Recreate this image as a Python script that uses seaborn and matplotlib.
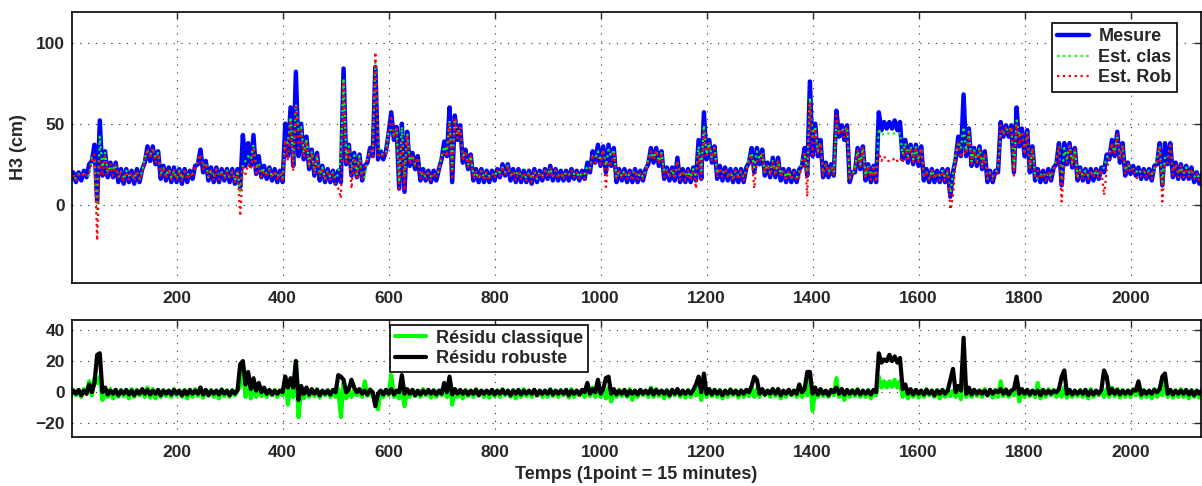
import numpy as np
import matplotlib
matplotlib.use("Agg")
import matplotlib.pyplot as plt
import seaborn as sns
from matplotlib.lines import Line2D

# ---------------- data (one bin every 10 samples) -------------
# measured level H3 (cm): lower / upper envelope of the noisy trace in each bin
mesure_lo = [15, 14, 15, 17, 27, 2, 18, 17, 17, 14,
             13, 14, 13, 14, 26, 27, 25, 16, 15, 14,
             14, 13, 14, 16, 25, 20, 15, 14, 14, 15,
             14, 13, 11, 24, 24, 19, 17, 16, 15, 14,
             14, 30, 24, 30, 28, 22, 18, 15, 14, 14,
             13, 14, 25, 18, 17, 15, 26, 30, 28, 28,
             44, 40, 10, 8, 24, 22, 15, 15, 14, 15,
             28, 30, 14, 40, 26, 22, 15, 14, 14, 14,
             15, 17, 18, 15, 14, 14, 14, 13, 14, 15,
             16, 15, 15, 15, 15, 16, 15, 16, 20, 26,
             24, 20, 24, 14, 15, 14, 14, 14, 15, 25,
             26, 24, 16, 15, 15, 14, 14, 14, 15, 16,
             28, 26, 16, 15, 15, 14, 14, 14, 26, 20,
             25, 18, 17, 17, 15, 14, 14, 14, 24, 18,
             30, 30, 17, 17, 18, 42, 40, 14, 20, 22,
             15, 14, 14, 46, 47, 47, 46, 28, 26, 25,
             24, 15, 14, 14, 14, 14, 5, 28, 30, 30,
             24, 24, 22, 14, 14, 20, 42, 42, 20, 36,
             30, 20, 15, 14, 14, 15, 25, 12, 25, 23,
             15, 15, 14, 15, 16, 20, 28, 30, 26, 18,
             19, 18, 16, 16, 15, 25, 12, 25, 17, 16,
             16, 16, 14, 13]
mesure_hi = [20, 20, 21, 25, 37, 52, 33, 26, 26, 22,
             22, 21, 22, 22, 36, 36, 33, 24, 23, 23,
             22, 22, 21, 24, 34, 27, 23, 23, 22, 22,
             22, 22, 43, 38, 43, 30, 24, 23, 22, 21,
             50, 60, 82, 50, 42, 34, 32, 24, 22, 21,
             21, 84, 37, 32, 31, 24, 35, 85, 33, 33,
             57, 48, 50, 45, 32, 30, 22, 21, 21, 22,
             39, 60, 55, 49, 34, 31, 22, 22, 21, 21,
             22, 25, 25, 22, 22, 21, 21, 22, 21, 22,
             24, 22, 21, 21, 22, 21, 21, 26, 33, 37,
             36, 37, 35, 22, 22, 21, 22, 21, 22, 35,
             35, 33, 23, 23, 29, 22, 22, 23, 40, 57,
             40, 36, 24, 23, 22, 22, 22, 23, 35, 35,
             34, 26, 29, 29, 22, 22, 21, 22, 35, 76,
             50, 40, 26, 25, 58, 49, 49, 20, 35, 36,
             25, 24, 57, 51, 51, 52, 51, 40, 37, 37,
             36, 22, 22, 21, 22, 22, 20, 42, 68, 47,
             35, 36, 33, 21, 21, 51, 49, 49, 60, 47,
             46, 36, 22, 21, 22, 23, 38, 38, 38, 35,
             23, 22, 22, 22, 23, 31, 40, 45, 38, 26,
             24, 23, 22, 22, 24, 38, 38, 38, 26, 25,
             24, 23, 20, 19]

# classical residual (cm), paired with the lower / upper points of each bin
res_clas_lo = [-3, -2, -3, -1, -2, 6, -5, -3, -4, -3,
               -2.5, -4, -3, -2, -3, -3.5, -4, -3, -2.5, -3,
               -2, -3, -4, -3, -2.5, -3.5, -2, -3, -4, -2.5,
               -3, -2, 4, -3, -4, -3, -2.5, -3, -2, -3,
               -2, -8, -3, -16, -4, -3, -2.5, -3.5, -2, -3,
               -3, -16, -4, -3, -2, -3, -2.5, -3, -11, -3,
               -2, -3, -4, -9, -3, -2.5, -3, -2, -3.5, -3,
               -2, -3, -8, -3, -4, -2.5, -3, -2, -3, -3.5,
               -2.5, -3, -2, -3, -4, -3, -2.5, -3, -2, -3,
               -3, -2.5, -3, -2, -3.5, -3, -2, -3, -2.5, -3,
               -3, -4, -6, -3, -2.5, -3, -5, -3, -2, -3,
               -3, -2.5, -4, -3, -2, -3, -3.5, -3, -2, -5,
               -3, -2.5, -3, -4, -3, -2, -3.5, -3, -2.5, -3,
               -3, -2, -3, -2.5, -4, -3, -2, -3, -3, -2,
               -12, -3, -2.5, -3, -2, -3, -5, -3, -2.5, -3,
               -3, -4, -2, 3, 3, 3.5, 3, -3, -4, -3,
               -3.5, -3, -2, -3, -4, -3, -2.5, -3, -4.5, -3,
               -3, -2.5, -3, -2, -3.5, -3, -2.5, -3, -2, -6,
               -3, -2.5, -3, -4, -3, -2, -3, -3, -3.5, -3,
               -2.5, -3, -4, -3, -2, -3, -3, -2.5, -3.5, -3,
               -3, -2, -3.5, -3, -4, -3, -2, -3, -3.5, -3,
               -3, -4, -3, -3.5]
res_clas_hi = [1.5, 1, 2, 7, 9, 10, 1, 2, 1, 1.5,
               1, 2, 1.5, 1, 3, 2, 1, 1.5, 1, 2,
               1, 1.5, 1, 2, 3, 1, 1.5, 1, 2, 1,
               1.5, 1, 18, 8, 6, 4, 2, 1, 1.5, 1,
               10, 6, 20, 2, 1.5, 1, 2, 1, 1.5, 1,
               2, 6, 1, 1.5, 1, 7, 2, -3, 1, 1.5,
               11, 1, 2, 1, 1.5, 1, 2, 1, 1.5, 1,
               3, 8, 2, 1, 1.5, 1, 2, 1, 1, 1.5,
               1, 2, 1, 1.5, 1, 2, 1, 1.5, 1, 1,
               2, 1, 1.5, 1, 2, 1, 1, 2, 3, 4,
               2, 3, 1, 1.5, 1, 2, 1, 1.5, 1, 3,
               2, 1, 1.5, 1, 2, 1, 1.5, 1, 4, 8,
               2, 1, 1.5, 1, 2, 1, 1.5, 1, 3, 2,
               1.5, 1, 2, 2, 1, 1.5, 1, 2, 3, 10,
               2, 1.5, 1, 1.5, 9, 2, 1, 1.5, 2, 1,
               1.5, 1, 10, 7, 7, 8, 7, 2, 1, 1.5,
               1, 2, 1, 1.5, 1, 2, 1, 3, 20, 2,
               1.5, 1, 2, 1, 1.5, 7, 2, 1, 8, 2,
               1.5, 1, 6, 1, 2, 1.5, 2, 3, 1.5, 1,
               1.5, 1, 2, 1, 1.5, 2, 3, 2, 1.5, 1,
               2, 1, 1.5, 1, 2, 2, 9, 1.5, 1, 2,
               1, 1.5, 1, 1]

# robust residual (cm), paired with the lower / upper points of each bin
res_rob_lo = [-1.5, -1, -2, -1, 0, 24, 0, -1.5, -1, -2,
              -1, -1.5, -2, -1, -1, -1.5, -1, -2, -1, -1.5,
              -1, -2, -1.5, -1, -1, -1.5, -2, -1, -1.5, -1,
              -2, -1, 18, 5, 2, 1, 0, -1, -1.5, -1,
              0, 3, 3, -5, -1, -1.5, -1, -2, -1, -1.5,
              0, 10, 0, 8, 0, -1, -1.5, 0, -1, -1.5,
              -1, -1.5, 0, -1, -1, -2, -1.5, -1, -1, -1.5,
              -1, 0, -1.5, -1, -1, -1.5, -1, -2, -1, -1,
              -1.5, -1, -1, -2, -1, -1.5, -1, -1, -2, -1,
              -1, -1.5, -1, -1, -2, -1, -1.5, 0, -1, 0,
              -1, 9, -1, -1.5, -1, -2, -1, -1.5, -1, -1,
              -1.5, -1, -1, -2, -1, -1.5, -1, -1, 5, 0,
              -1, -1.5, -1, -2, -1, -1, -1.5, -1, 0, 10,
              -1, -1.5, -1, -1, -2, -1, -1.5, -1, 0, 13,
              -1, -1.5, -1, -2, 0, -1, -1.5, -1, -1, -1.5,
              -1, -1.5, 0, 19, 20, 20, 19, 2, -1, -1.5,
              -1, -1.5, -1, -2, -1, -1, 8, 0, 1, -1,
              -1.5, -1, -1, -2, -1, 0, -1, -1.5, 2, -1,
              -1, -1.5, -1, -2, -1, -1, 0, 10, -1, -1.5,
              -1, -1, -2, -1.5, -1, 14, -1, -1, -1.5, -1,
              -1, 1, -1.5, -1, -1, 0, 10, -1, -1.5, -1,
              -1, -1.5, -2, -1]
res_rob_hi = [1, 1.5, 1, 5, 6, 25, 3, 1, 1.5, 1,
              1.5, 1, 1, 2, 1.5, 1, 1.5, 1, 1, 1.5,
              1, 1, 1.5, 1, 3, 1.5, 1, 1, 1.5, 1,
              1, 1.5, 20, 13, 9, 6, 3, 1.5, 1, 1,
              10, 9, 20, 4, 3, 2, 1.5, 1, 1, 1.5,
              11, 8, 2, 3, 2, 1, 1.5, -9, 1, 1.5,
              2, 1, 11, 2, 1.5, 1, 1, 1.5, 1, 1,
              6, 10, 2, 1.5, 1, 1, 1.5, 1, 1, 1.5,
              1, 1.5, 1, 1, 1.5, 1, 1, 1.5, 1, 1,
              1.5, 1, 1, 1.5, 1, 1, 1.5, 6, 2, 8,
              2, 10, 2, 1, 1.5, 1, 1, 1.5, 1, 2,
              1.5, 1, 1, 1.5, 2, 1, 1, 1.5, 10, 12,
              2, 1.5, 1, 1, 1.5, 1, 1, 1.5, 4, 8,
              2, 1, 2, 2, 1, 1.5, 1, 5, 2, 13,
              3, 2, 1, 1.5, 3, 2, 1.5, 1, 1.5, 1,
              1, 1.5, 25, 21, 24, 23, 22, 5, 2, 1.5,
              1, 1.5, 1, 1, 1.5, 1, 15, 4, 35, 3,
              1.5, 1, 1, 1.5, 1, 2, 1.5, 1, 10, 2,
              1.5, 1, 1, 1.5, 1, 1, 2, 14, 1.5, 1,
              1, 1.5, 1, 1, 1.5, 10, 2, 1.5, 1, 1,
              1.5, 7, 1, 1, 1.5, 2, 12, 1.5, 1, 1,
              1.5, 1, 1, 1.5]

top_ticks = [0, 50, 100]
bottom_yticks = [-20, 0, 20, 40]
x_ticks = [200, 400, 600, 800, 1000, 1200, 1400, 1600, 1800, 2000]
bin_step = 10

# ---------------- build the traces --------------------------------------------------
def zig(lo, hi):
    return np.column_stack([np.asarray(lo, float), np.asarray(hi, float)]).ravel()

bins = np.arange(len(mesure_lo)) * bin_step
t = np.column_stack([bins, bins + bin_step / 2]).ravel()
mesure = zig(mesure_lo, mesure_hi)
res_clas = zig(res_clas_lo, res_clas_hi)
res_rob = zig(res_rob_lo, res_rob_hi)
est_clas = mesure - res_clas      # residual = measure - estimate
est_rob = mesure - res_rob

# ---------------- style --------------------------------------------------------------
sns.set_style("white")
plt.rcParams["font.family"] = ["Liberation Sans", "DejaVu Sans"]
plt.rcParams["font.weight"] = "bold"
plt.rcParams["axes.labelweight"] = "bold"

BLUE, GREEN, RED = "#0000ff", "#00ff00", "#ff0000"
TICK_FS, LABEL_FS, LEG_FS = 12.5, 13, 13

fig = plt.figure(figsize=(12.02, 4.86), dpi=100)
ax1 = fig.add_axes([71.7 / 1202, 1 - 282.7 / 486, (1201 - 71.7) / 1202, 271 / 486])
ax2 = fig.add_axes([71.7 / 1202, 1 - 436.7 / 486, (1201 - 71.7) / 1202, 116.7 / 486])

kw = dict(estimator=None, sort=False, legend=False)
sns.lineplot(x=t, y=mesure, ax=ax1, color=BLUE, linewidth=3.2, **kw)
sns.lineplot(x=t, y=est_clas, ax=ax1, color=GREEN, linewidth=1.6, linestyle=":", **kw)
sns.lineplot(x=t, y=est_rob, ax=ax1, color=RED, linewidth=1.6, linestyle=":", **kw)

sns.lineplot(x=t, y=res_clas, ax=ax2, color=GREEN, linewidth=3.0, **kw)
sns.lineplot(x=t, y=res_rob, ax=ax2, color="black", linewidth=3.0, **kw)

for ax in (ax1, ax2):
    ax.set_xlim(2, 2133)
    ax.set_xticks(x_ticks)
    ax.grid(True, linestyle=(0, (1, 6)), color="#303030", linewidth=0.8)
    ax.set_axisbelow(True)
    ax.tick_params(direction="in", top=True, right=True, length=5, width=1,
                   labelsize=TICK_FS, pad=6)
    ax.tick_params(axis="y", pad=5)
    for s in ax.spines.values():
        s.set_color("black")
        s.set_linewidth(1.2)
    ax.set_xlabel("")
    ax.set_ylabel("")
    for lab in ax.get_xticklabels() + ax.get_yticklabels():
        lab.set_fontweight("bold")

ax1.set_ylim(-48, 119)
ax1.set_yticks(top_ticks)
ax1.set_ylabel("H3 (cm)", fontsize=LABEL_FS, fontweight="bold", labelpad=6)

ax2.set_ylim(-28.6, 46.4)
ax2.set_yticks(bottom_yticks)
ax2.set_xlabel("Temps (1point = 15 minutes)", fontsize=LABEL_FS, fontweight="bold",
               labelpad=4)

h1 = [Line2D([], [], color=BLUE, lw=3.2),
      Line2D([], [], color=GREEN, lw=1.6, ls=":"),
      Line2D([], [], color=RED, lw=1.6, ls=":")]
leg1 = ax1.legend(h1, ["Mesure", "Est. clas", "Est. Rob"], loc="upper right",
                  bbox_to_anchor=(0.979, 0.959), borderaxespad=0, fancybox=False,
                  edgecolor="black", framealpha=1,
                  prop={"size": LEG_FS, "weight": "bold"},
                  handlelength=1.75, handletextpad=0.55, labelspacing=0.2,
                  borderpad=0.3)
leg1.get_frame().set_linewidth(1.2)

h2 = [Line2D([], [], color=GREEN, lw=3.0), Line2D([], [], color="black", lw=3.0)]
leg2 = ax2.legend(h2, ["Résidu classique", "Résidu robuste"], loc="upper left",
                  bbox_to_anchor=(0.282, 0.957), borderaxespad=0, fancybox=False,
                  edgecolor="black", framealpha=1,
                  prop={"size": LEG_FS, "weight": "bold"},
                  handlelength=1.75, handletextpad=0.55, labelspacing=0.2,
                  borderpad=0.25)
leg2.get_frame().set_linewidth(1.2)

fig.savefig("out.png", dpi=100)
